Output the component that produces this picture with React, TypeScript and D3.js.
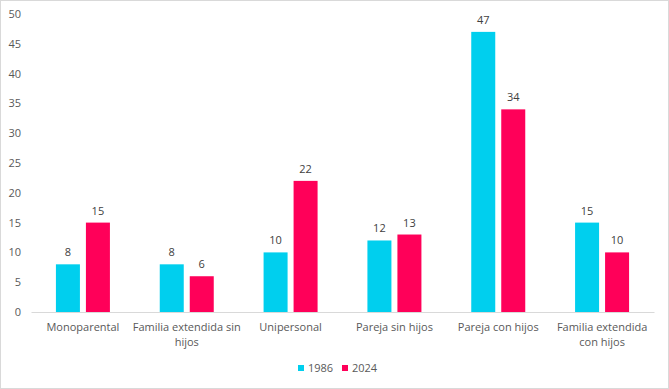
import React, { useEffect, useRef } from 'react';
import * as d3 from 'd3';

const categories = [
  'Monoparental',
  'Familia extendida sin hijos',
  'Unipersonal',
  'Pareja sin hijos',
  'Pareja con hijos',
  'Familia extendida con hijos',
];
// how the category labels wrap under the axis
const categoryLines = [
  ['Monoparental'],
  ['Familia extendida sin', 'hijos'],
  ['Unipersonal'],
  ['Pareja sin hijos'],
  ['Pareja con hijos'],
  ['Familia extendida', 'con hijos'],
];
const seriesNames = ['1986', '2024'];
const values1986 = [8, 8, 10, 12, 47, 15];
const values2024 = [15, 6, 22, 13, 34, 10];
const yTicks = [0, 5, 10, 15, 20, 25, 30, 35, 40, 45, 50];

const colors = ['#00CFEE', '#FF0059'];
const W = 669;
const H = 389;
const textColor = '#595959';
const font = '"Open Sans", sans-serif';

const App = () => {
  const ref = useRef<SVGSVGElement>(null);

  useEffect(() => {
    const svg = d3.select(ref.current);
    svg.selectAll('*').remove();

    const margin = { left: 31, right: 15, top: 14, bottom: 77 };

    const x = d3.scaleBand()
      .domain(categories)
      .range([margin.left, W - margin.right])
      .paddingInner(0)
      .paddingOuter(0);

    const y = d3.scaleLinear()
      .domain([0, 50])
      .range([H - margin.bottom, margin.top]);

    const xs = d3.scaleBand()
      .domain(seriesNames)
      .range([-27, 27])
      .paddingInner(0.2);

    svg.append('rect')
      .attr('x', 0.5).attr('y', 0.5)
      .attr('width', W - 1).attr('height', H - 1)
      .attr('fill', '#fff')
      .attr('stroke', '#d9d9d9');

    // y axis labels
    const yAxis = svg.append('g')
      .attr('transform', `translate(${margin.left - 10},0)`)
      .call(d3.axisLeft(y).tickValues(yTicks).tickSize(0).tickPadding(0));
    yAxis.select('.domain').remove();
    yAxis.selectAll('text')
      .attr('fill', textColor)
      .style('font-family', font)
      .style('font-size', '11px');

    const series = [values1986, values2024];
    series.forEach((vals, si) => {
      const g = svg.append('g');
      g.selectAll('rect')
        .data(vals)
        .enter()
        .append('rect')
        .attr('x', (d, i) => x(categories[i])! + x.bandwidth() / 2 + xs(seriesNames[si])!)
        .attr('y', d => y(d))
        .attr('width', xs.bandwidth())
        .attr('height', d => y(0) - y(d))
        .attr('fill', colors[si]);

      g.selectAll('text')
        .data(vals)
        .enter()
        .append('text')
        .attr('x', (d, i) => x(categories[i])! + x.bandwidth() / 2 + xs(seriesNames[si])! + xs.bandwidth() / 2)
        .attr('y', d => y(d) - 8)
        .attr('text-anchor', 'middle')
        .attr('fill', '#404040')
        .style('font-family', font)
        .style('font-size', '11px')
        .text(d => d);
    });

    // x axis
    const xAxis = svg.append('g')
      .attr('transform', `translate(0,${y(0)})`)
      .call(d3.axisBottom(x).tickSize(0).tickFormat(() => ''));
    xAxis.select('.domain').attr('stroke', '#d9d9d9');

    const labels = svg.append('g');
    categories.forEach((c, i) => {
      const t = labels.append('text')
        .attr('x', x(c)! + x.bandwidth() / 2)
        .attr('y', y(0) + 19)
        .attr('text-anchor', 'middle')
        .attr('fill', textColor)
        .style('font-family', font)
        .style('font-size', '11px');
      categoryLines[i].forEach((line, li) => {
        t.append('tspan')
          .attr('x', x(c)! + x.bandwidth() / 2)
          .attr('dy', li === 0 ? 0 : 15)
          .text(line);
      });
    });

    // legend
    const legend = svg.append('g').attr('transform', 'translate(298,368)');
    seriesNames.forEach((s, i) => {
      const g = legend.append('g').attr('transform', `translate(${i * 44},0)`);
      g.append('rect')
        .attr('x', 0).attr('y', -3)
        .attr('width', 6).attr('height', 6)
        .attr('fill', colors[i]);
      g.append('text')
        .attr('x', 10).attr('y', 4)
        .attr('fill', textColor)
        .style('font-family', font)
        .style('font-size', '11px')
        .text(s);
    });
  }, []);

  return (
    <svg ref={ref} width={W} height={H} style={{ position: 'absolute', left: 0, top: 0 }} />
  );
};

export default App;
